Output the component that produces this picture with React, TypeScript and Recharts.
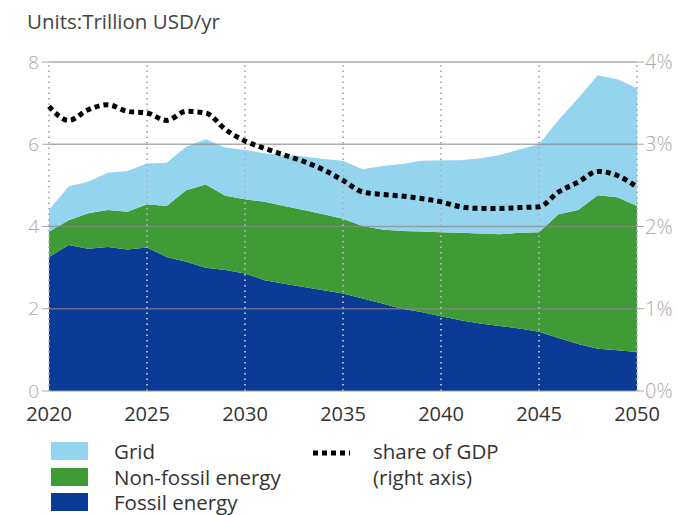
import React from "react";
import {
    ComposedChart,
    Area,
    Line,
    XAxis,
    YAxis,
    ReferenceLine,
} from "recharts";

const years = [
    2020, 2021, 2022, 2023, 2024, 2025, 2026, 2027, 2028, 2029, 2030,
    2031, 2032, 2033, 2034, 2035, 2036, 2037, 2038, 2039, 2040,
    2041, 2042, 2043, 2044, 2045, 2046, 2047, 2048, 2049, 2050,
];

// trillion USD/yr, stacked from the bottom
const fossil = [
    3.26, 3.55, 3.46, 3.5, 3.44, 3.49, 3.26, 3.14, 3.0, 2.94, 2.86,
    2.69, 2.61, 2.53, 2.45, 2.37, 2.25, 2.13, 2.0, 1.92, 1.82,
    1.72, 1.64, 1.58, 1.52, 1.44, 1.29, 1.14, 1.03, 0.99, 0.95,
];
const nonFossil = [
    0.61, 0.6, 0.86, 0.9, 0.92, 1.05, 1.24, 1.74, 2.02, 1.81, 1.8,
    1.91, 1.89, 1.87, 1.85, 1.82, 1.76, 1.8, 1.89, 1.96, 2.04,
    2.13, 2.19, 2.23, 2.33, 2.42, 3.01, 3.26, 3.73, 3.72, 3.55,
];
const grid = [
    0.54, 0.82, 0.77, 0.91, 0.99, 0.99, 1.05, 1.06, 1.1, 1.17, 1.2,
    1.18, 1.24, 1.3, 1.34, 1.41, 1.38, 1.54, 1.63, 1.72, 1.75,
    1.76, 1.83, 1.93, 2.02, 2.14, 2.29, 2.72, 2.92, 2.87, 2.86,
];
// percent of GDP, right axis
const gdpShare = [
    3.46, 3.29, 3.42, 3.48, 3.4, 3.38, 3.29, 3.4, 3.38, 3.18, 3.04,
    2.95, 2.87, 2.79, 2.69, 2.56, 2.42, 2.39, 2.37, 2.34, 2.3,
    2.24, 2.22, 2.22, 2.23, 2.24, 2.42, 2.54, 2.67, 2.62, 2.48,
];

const leftTicks = [0, 2, 4, 6, 8];
const rightTicks = [0, 1, 2, 3, 4];
const yearTicks = [2020, 2025, 2030, 2035, 2040, 2045, 2050];

const data = years.map((y, i) => ({
    year: y,
    fossil: fossil[i],
    nonFossil: nonFossil[i],
    grid: grid[i],
    share: gdpShare[i],
}));

const FONT = "'Open Sans', 'Noto Sans', sans-serif";
const C_GRID = "#95d4ef";
const C_GREEN = "#3f9b35";
const C_FOSSIL = "#0b3a97";

const legendItems = [
    { label: "Grid", color: C_GRID, top: 442, textTop: 439 },
    { label: "Non-fossil energy", color: C_GREEN, top: 468, textTop: 465 },
    { label: "Fossil energy", color: C_FOSSIL, top: 493, textTop: 490 },
];

export default function App() {
    return (
        <div
            style={{
                position: "absolute",
                left: 0,
                top: 0,
                width: 678,
                height: 515,
                background: "#fff",
                fontFamily: FONT,
            }}
        >
            <div
                style={{
                    position: "absolute",
                    left: 27,
                    top: 7,
                    fontSize: 20.5,
                    color: "#444",
                    whiteSpace: "nowrap",
                }}
            >
                Units:Trillion USD/yr
            </div>
            <div style={{ position: "absolute", left: 0, top: 0 }}>
                <ComposedChart
                    width={678}
                    height={440}
                    data={data}
                    margin={{ top: 62, right: 0, left: 0, bottom: 0 }}
                >
                    <XAxis
                        dataKey="year"
                        type="number"
                        domain={[2020, 2050]}
                        ticks={yearTicks}
                        tickLine={false}
                        tickMargin={10}
                        height={49}
                        stroke="#999"
                        tick={{ fill: "#333", fontSize: 20, fontFamily: FONT }}
                    />
                    <YAxis
                        yAxisId="left"
                        domain={[0, 8]}
                        ticks={leftTicks}
                        width={49}
                        axisLine={false}
                        tickSize={7}
                        tickMargin={3}
                        stroke="#aaa"
                        tick={{ fill: "#aaa", fontSize: 19, fontWeight: 300, fontFamily: FONT }}
                    />
                    <YAxis
                        yAxisId="right"
                        orientation="right"
                        domain={[0, 4]}
                        ticks={rightTicks}
                        width={41}
                        axisLine={false}
                        tickSize={7}
                        tickMargin={1}
                        stroke="#aaa"
                        tickFormatter={(v) => `${v}%`}
                        tick={{ fill: "#aaa", fontSize: 20, fontWeight: 300, fontFamily: FONT }}
                    />
                    <Area
                        yAxisId="left"
                        type="linear"
                        dataKey="fossil"
                        stackId="a"
                        stroke="none"
                        fill={C_FOSSIL}
                        fillOpacity={1}
                        isAnimationActive={false}
                    />
                    <Area
                        yAxisId="left"
                        type="linear"
                        dataKey="nonFossil"
                        stackId="a"
                        stroke="none"
                        fill={C_GREEN}
                        fillOpacity={1}
                        isAnimationActive={false}
                    />
                    <Area
                        yAxisId="left"
                        type="linear"
                        dataKey="grid"
                        stackId="a"
                        stroke="none"
                        fill={C_GRID}
                        fillOpacity={1}
                        isAnimationActive={false}
                    />
                    {leftTicks
                        .filter((t) => t > 0)
                        .map((t) => (
                            <ReferenceLine
                                key={"h" + t}
                                yAxisId="left"
                                y={t}
                                stroke="#8a8a8a"
                                strokeOpacity={0.7}
                                strokeWidth={1.5}
                            />
                        ))}
                    {yearTicks.map((t) => (
                        <ReferenceLine
                            key={"v" + t}
                            yAxisId="left"
                            x={t}
                            stroke="#b0b0c0"
                            strokeWidth={2}
                            strokeDasharray="1.5 4"
                        />
                    ))}
                    <Line
                        yAxisId="right"
                        type="monotone"
                        dataKey="share"
                        stroke="#000"
                        strokeWidth={5}
                        strokeDasharray="5 4"
                        dot={false}
                        activeDot={false}
                        isAnimationActive={false}
                    />
                </ComposedChart>
            </div>
            {/* legend */}
            {legendItems.map((it) => (
                <div key={it.label}>
                    <div
                        style={{
                            position: "absolute",
                            left: 51,
                            top: it.top,
                            width: 37,
                            height: 18,
                            background: it.color,
                        }}
                    />
                    <div
                        style={{
                            position: "absolute",
                            left: 114,
                            top: it.textTop,
                            fontSize: 20.5,
                            lineHeight: "24px",
                            color: "#333",
                            whiteSpace: "nowrap",
                        }}
                    >
                        {it.label}
                    </div>
                </div>
            ))}
            <svg
                style={{ position: "absolute", left: 310, top: 448 }}
                width={42}
                height={10}
            >
                <line
                    x1={3}
                    y1={5}
                    x2={40}
                    y2={5}
                    stroke="#000"
                    strokeWidth={5}
                    strokeDasharray="5 4"
                />
            </svg>
            <div
                style={{
                    position: "absolute",
                    left: 373,
                    top: 438,
                    fontSize: 20.5,
                    color: "#333",
                    lineHeight: "26px",
                    whiteSpace: "nowrap",
                }}
            >
                share of GDP
                <br />
                (right axis)
            </div>
        </div>
    );
}
